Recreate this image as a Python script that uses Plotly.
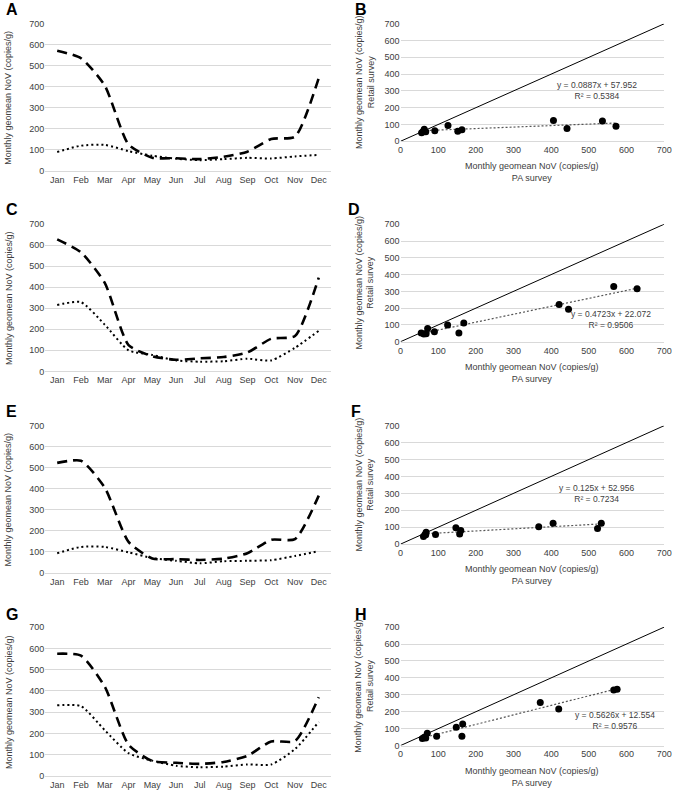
import plotly.graph_objects as go

# ---------------------------------------------------------------------------
# Data
# ---------------------------------------------------------------------------
months = ['Jan', 'Feb', 'Mar', 'Apr', 'May', 'Jun',
          'Jul', 'Aug', 'Sep', 'Oct', 'Nov', 'Dec']

# PA survey (dashed) and retail survey (dotted), monthly geomean NoV copies/g
pa_a = [572, 536, 406, 126, 63, 60, 56, 67, 91, 152, 163, 442]
retail_a = [90, 120, 124, 94, 72, 58, 51, 56, 62, 59, 69, 76]

pa_c = [628, 566, 421, 125, 72, 55, 62, 68, 90, 155, 168, 446]
retail_c = [316, 329, 222, 100, 78, 52, 46, 48, 60, 52, 112, 193]

pa_e = [523, 533, 405, 147, 68, 65, 61, 67, 93, 157, 160, 367]
retail_e = [93, 123, 123, 97, 70, 57, 45, 55, 57, 60, 80, 103]

pa_g = [575, 566, 420, 148, 71, 63, 58, 67, 96, 163, 165, 371]
retail_g = [333, 329, 216, 108, 73, 49, 42, 45, 55, 55, 127, 255]

# Linear trendlines printed on the scatter panels
fit_b = (0.0887, 57.952, 0.5384)
fit_d = (0.4723, 22.072, 0.9506)
fit_f = (0.125, 52.956, 0.7234)
fit_h = (0.5626, 12.554, 0.9576)

identity = [0, 700]
value_ticks = [0, 100, 200, 300, 400, 500, 600, 700]

# ---------------------------------------------------------------------------
W, H = 685, 797
FONT = 'Liberation Sans, Arial, sans-serif'
GRID = '#d9d9d9'
TXT = '#404040'


def py(px):
    return 1 - px / H


def ax_id(i):
    return '' if i == 1 else str(i)


fig = go.Figure()
annotations = []

# (left axis, right axis, top px, bottom px left, bottom px right, letters,
#  letter y px, right letter x px, data, fit, eq position)
panels = [
    (1, 2, 19, 168, 138, 'A', 'B', 8, 364, pa_a, retail_a, fit_b, (521, 302)),
    (3, 4, 222, 371, 341, 'C', 'D', 210, 357, pa_c, retail_c, fit_d, (560, 132)),
    (5, 6, 426, 575, 546, 'E', 'F', 415, 359, pa_e, retail_e, fit_f, (520, 300)),
    (7, 8, 630, 781, 750, 'G', 'H', 620, 364, pa_g, retail_g, fit_h, (570, 147)),
]

layout_axes = {}
for li, ri, top, bot_l, bot_r, lt_l, lt_r, let_y, let_xr, pa, retail, fit, eqpos in panels:
    xl, yl = 'x' + ax_id(li), 'y' + ax_id(li)
    xr, yr = 'x' + ax_id(ri), 'y' + ax_id(ri)

    # --- monthly time series ---
    fig.add_trace(go.Scatter(
        x=months, y=pa, xaxis=xl, yaxis=yl, mode='lines',
        line=dict(color='black', width=2.6, dash='10px,6px', shape='spline', smoothing=0.6),
        showlegend=False, hoverinfo='skip'
    ))
    fig.add_trace(go.Scatter(
        x=months, y=retail, xaxis=xl, yaxis=yl, mode='lines',
        line=dict(color='black', width=2, dash='2px,3px', shape='spline', smoothing=0.6),
        showlegend=False, hoverinfo='skip'
    ))

    # --- scatter PA vs retail ---
    fig.add_trace(go.Scatter(
        x=identity, y=identity, xaxis=xr, yaxis=yr, mode='lines',
        line=dict(color='black', width=1), showlegend=False, hoverinfo='skip'
    ))
    slope, icpt, r2 = fit
    fx = [min(pa), max(pa)]
    fig.add_trace(go.Scatter(
        x=fx, y=[slope * v + icpt for v in fx], xaxis=xr, yaxis=yr, mode='lines',
        line=dict(color='#555555', width=1.2, dash='2px,2px'),
        showlegend=False, hoverinfo='skip'
    ))
    fig.add_trace(go.Scatter(
        x=pa, y=retail, xaxis=xr, yaxis=yr, mode='markers',
        marker=dict(color='black', size=7), showlegend=False
    ))

    common_y = dict(range=[0, 700], tickvals=value_ticks, showgrid=True, gridcolor=GRID,
                    gridwidth=1, zeroline=False, showline=False, ticks='',
                    tickfont=dict(size=9, color=TXT, family=FONT), fixedrange=True)
    layout_axes['xaxis' + ax_id(li)] = dict(
        domain=[43 / W, 333 / W], anchor=yl, type='category', range=[-0.5, 11.5],
        showgrid=False, zeroline=False, showline=True, linecolor=GRID, linewidth=1,
        ticks='', tickfont=dict(size=9, color=TXT, family=FONT)
    )
    layout_axes['yaxis' + ax_id(li)] = dict(domain=[py(bot_l), py(top)], anchor=xl, **common_y)
    layout_axes['xaxis' + ax_id(ri)] = dict(
        domain=[404 / W, 672 / W], anchor=yr, range=[0, 700], tickvals=value_ticks,
        showgrid=False, zeroline=False, showline=True, linecolor=GRID, linewidth=1,
        ticks='', tickfont=dict(size=9, color=TXT, family=FONT)
    )
    layout_axes['yaxis' + ax_id(ri)] = dict(domain=[py(bot_r), py(top)], anchor=xr, **common_y)

    # panel letters
    annotations.append(dict(text=f'<b>{lt_l}</b>', xref='paper', yref='paper',
                            x=9 / W, y=py(let_y - 3), showarrow=False,
                            xanchor='center', yanchor='middle',
                            font=dict(size=16, family=FONT, color='black')))
    annotations.append(dict(text=f'<b>{lt_r}</b>', xref='paper', yref='paper',
                            x=let_xr / W, y=py(let_y - 3), showarrow=False,
                            xanchor='center', yanchor='middle',
                            font=dict(size=16, family=FONT, color='black')))

    # axis titles
    annotations.append(dict(text='Monthly geomean NoV (copies/g)', textangle=-90,
                            xref=f'{xl} domain', yref=f'{yl} domain', x=0, y=0.5,
                            xanchor='center', yanchor='middle',
                            xshift=-37, showarrow=False,
                            font=dict(size=9, family=FONT, color=TXT)))
    annotations.append(dict(text='Monthly geomean NoV (copies/g)<br>Retail survey', textangle=-90,
                            xref=f'{xr} domain', yref=f'{yr} domain', x=0, y=0.5,
                            xanchor='center', yanchor='middle',
                            xshift=-36, showarrow=False,
                            font=dict(size=9, family=FONT, color=TXT)))
    annotations.append(dict(text='Monthly geomean NoV (copies/g)<br>PA survey',
                            xref=f'{xr} domain', yref=f'{yr} domain', x=0.5, y=0,
                            xanchor='center', yshift=-18, yanchor='top', showarrow=False,
                            font=dict(size=9, family=FONT, color=TXT)))

    # trendline equation
    ex, ey = eqpos
    annotations.append(dict(text=f'y = {slope}x + {icpt}<br>R² = {r2}', xref=xr, yref=yr,
                            x=ex, y=ey, showarrow=False, align='center',
                            font=dict(size=8.5, family=FONT, color=TXT)))

fig.update_layout(
    width=W, height=H,
    margin=dict(l=0, r=0, t=0, b=0),
    paper_bgcolor='white', plot_bgcolor='white',
    font=dict(family=FONT, color=TXT),
    annotations=annotations,
    **layout_axes
)

fig.write_html('out.html', config={'displayModeBar': False},
               post_script="document.body.style.margin='0';")
